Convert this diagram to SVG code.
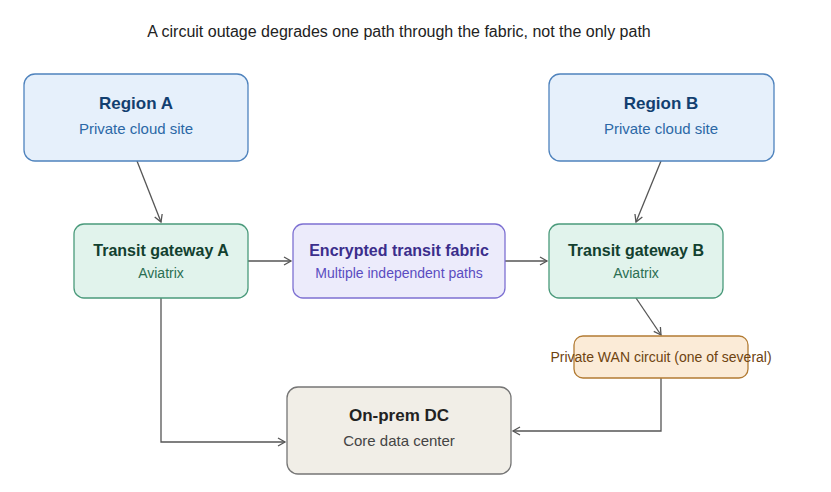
<svg xmlns="http://www.w3.org/2000/svg" width="831" height="492" viewBox="0 0 831 492">
<defs>
<marker id="arr" markerWidth="10" markerHeight="10" refX="8" refY="5" orient="auto" markerUnits="userSpaceOnUse">
<path d="M1,1 L8,5 L1,9" fill="none" stroke="#555" stroke-width="1.3"/>
</marker>
<style>
text{font-family:"Liberation Sans",Arial,sans-serif;text-anchor:middle}
.t{font-size:16px;font-weight:bold}
.s{font-size:14px}
.big .t{font-size:17px}
.big .s{font-size:15px}
.c{fill:none;stroke:#555;stroke-width:1.3;marker-end:url(#arr)}
.blue rect{fill:#e6f0fb;stroke:#4f83bd;stroke-width:1.3}
.blue .t{fill:#123f70}.blue .s{fill:#2b68a6}
.green rect{fill:#e1f3ec;stroke:#4a9a7b;stroke-width:1.3}
.green .t{fill:#12402f}.green .s{fill:#2a6e52}
.purple rect{fill:#ecebfb;stroke:#7d70d2;stroke-width:1.3}
.purple .t{fill:#3b2e8c}.purple .s{fill:#5a4cc1}
.orange rect{fill:#fbebd7;stroke:#b27b33;stroke-width:1.3}
.orange text{fill:#6e4310;font-size:14px}
.grey rect{fill:#f1eee7;stroke:#757575;stroke-width:1.3}
.grey .t{fill:#222}.grey .s{fill:#444}
</style>
</defs>
<rect width="831" height="492" fill="#fff"/>
<text x="399" y="37" font-size="16" fill="#222">A circuit outage degrades one path through the fabric, not the only path</text>
<g id="connectors">
<path class="c" d="M137,161 L161,222"/>
<path class="c" d="M661,161 L636,222"/>
<path class="c" d="M248,261 L291,261"/>
<path class="c" d="M505,261 L547,261"/>
<path class="c" d="M636,298 L661,335"/>
<path class="c" d="M661,378 L661,431 L513,431"/>
<path class="c" d="M161,298 L161,442 L285,442"/>
</g>
<g id="regionA" class="blue big"><rect x="24" y="74" width="224" height="87" rx="11"/><text class="t" x="136" y="109">Region A</text><text class="s" x="136" y="134">Private cloud site</text></g>
<g id="regionB" class="blue big"><rect x="549" y="74" width="225" height="87" rx="11"/><text class="t" x="661" y="109">Region B</text><text class="s" x="661" y="134">Private cloud site</text></g>
<g id="tgA" class="green"><rect x="74" y="224" width="174" height="74" rx="10"/><text class="t" x="161" y="256">Transit gateway A</text><text class="s" x="161" y="278">Aviatrix</text></g>
<g id="fabric" class="purple"><rect x="293" y="224" width="212" height="74" rx="10"/><text class="t" x="399" y="256">Encrypted transit fabric</text><text class="s" x="399" y="278">Multiple independent paths</text></g>
<g id="tgB" class="green"><rect x="549" y="224" width="174" height="74" rx="10"/><text class="t" x="636" y="256">Transit gateway B</text><text class="s" x="636" y="278">Aviatrix</text></g>
<g id="wan" class="orange"><rect x="574" y="336" width="174" height="42" rx="9"/><text x="661" y="362">Private WAN circuit (one of several)</text></g>
<g id="dc" class="grey big"><rect x="287" y="387" width="224" height="87" rx="11"/><text class="t" x="399" y="421">On-prem DC</text><text class="s" x="399" y="446">Core data center</text></g>
</svg>
